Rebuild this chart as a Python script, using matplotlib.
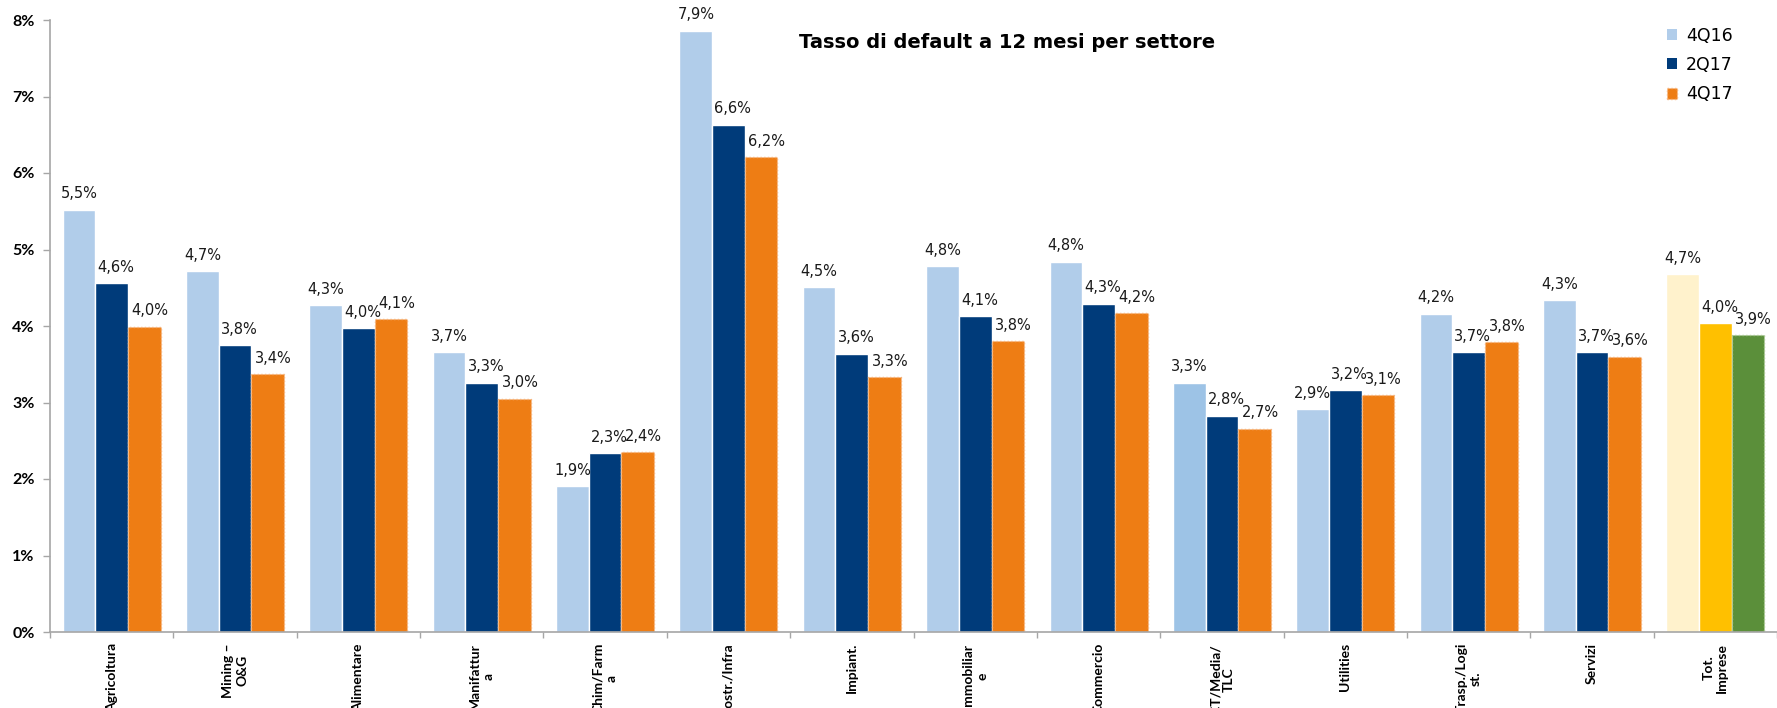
import numpy as np
import matplotlib
matplotlib.use("Agg")
import matplotlib.pyplot as plt
from matplotlib.patches import Patch

# Dati: tasso di default a 12 mesi (%) per settore
settori = ["Agricoltura", "Mining –\nO&G", "Alimentare", "Manifattur\na", "Chim/Farm\na",
           "Costr./Infra", "Impiant.", "Immobiliar\ne", "Commercio", "ICT/Media/\nTLC",
           "Utilities", "Trasp./Logi\nst.", "Servizi", "Tot.\nImprese"]
serie = ["4Q16", "2Q17", "4Q17"]
v_4q16 = [5.52, 4.72, 4.27, 3.66, 1.91, 7.86, 4.51, 4.78, 4.84, 3.26, 2.91, 4.16, 4.34, 4.68]
v_2q17 = [4.56, 3.75, 3.97, 3.26, 2.34, 6.63, 3.64, 4.13, 4.29, 2.83, 3.16, 3.66, 3.66, 4.04]
v_4q17 = [3.99, 3.37, 4.09, 3.05, 2.35, 6.21, 3.33, 3.80, 4.17, 2.66, 3.10, 3.79, 3.60, 3.88]
y_ticks = [0, 1, 2, 3, 4, 5, 6, 7, 8]

# Colori (l'ultimo gruppo "Tot. Imprese" ha colori diversi, ICT un azzurro più scuro)
col_4q16 = ["#B1CDEA"] * 9 + ["#9DC3E6"] + ["#B1CDEA"] * 3 + ["#FFF2CC"]
col_2q17 = ["#003B7A"] * 13 + ["#FFC000"]
col_4q17 = ["#EE7D14"] * 13 + ["#5B8F3A"]
edge_4q17 = ["#F6B27A"] * 13 + ["#A9C98F"]

fig = plt.figure(figsize=(17.77, 7.08), dpi=100)
ax = fig.add_axes([50 / 1777, 76 / 708, 1 - 50 / 1777, 612 / 708])

x = np.arange(len(settori))
w = 0.265

b1 = ax.bar(x - w, v_4q16, w, color=col_4q16, edgecolor="white", linewidth=1)
b2 = ax.bar(x, v_2q17, w, color=col_2q17, edgecolor="white", linewidth=1)
b3 = ax.bar(x + w, v_4q17, w, color=col_4q17, edgecolor=edge_4q17, linewidth=1, linestyle=":")


def etichetta(v):
    return f"{v:.1f}".replace(".", ",") + "%"


# Etichette sopra le barre
for barre, valori, dx in [(b1, v_4q16, 0), (b2, v_2q17, 3), (b3, v_4q17, 4)]:
    for b, v in zip(barre, valori):
        ax.annotate(etichetta(v), (b.get_x() + b.get_width() / 2, v),
                    xytext=(dx, 6), textcoords="offset points",
                    ha="center", va="bottom", fontsize=10.5, family="DejaVu Sans",
                    color="#1a1a1a")

ax.set_xlim(-0.5, len(settori) - 0.5)
ax.set_ylim(0, 8)
ax.set_yticks(y_ticks)
ax.set_yticklabels([f"{t}%" for t in y_ticks], fontsize=11.5, fontweight="bold", family="Lato")
ax.tick_params(axis="y", length=5, width=1, color="#A6A6A6", pad=6)

ax.set_xticks(x)
ax.set_xticklabels(settori, rotation=90, ha="center", va="top", multialignment="center",
                   fontsize=10, fontweight="bold", family="Lato")
ax.tick_params(axis="x", which="major", length=0, pad=8)
ax.set_xticks(np.arange(len(settori) + 1) - 0.5, minor=True)
ax.tick_params(axis="x", which="minor", length=4, width=1, color="#A6A6A6")

for s in ["top", "right"]:
    ax.spines[s].set_visible(False)
for s in ["left", "bottom"]:
    ax.spines[s].set_color("#A6A6A6")
    ax.spines[s].set_linewidth(1.2)

fig.text(1007 / 1777, 1 - 43 / 708, "Tasso di default a 12 mesi per settore",
         ha="center", va="center", fontsize=14, fontweight="bold", family="DejaVu Sans")

maniglie = [Patch(facecolor="#B1CDEA"), Patch(facecolor="#003B7A"),
            Patch(facecolor="#EE7D14", edgecolor="#F6B27A", linestyle=":")]
fig.legend(maniglie, serie, loc="upper left", bbox_to_anchor=(1658 / 1777, 1 - 18 / 708),
           frameon=False, fontsize=12.5, handlelength=0.6, handleheight=0.6,
           handletextpad=0.5, labelspacing=0.65, borderpad=0)

fig.savefig("out.png", dpi=100)
